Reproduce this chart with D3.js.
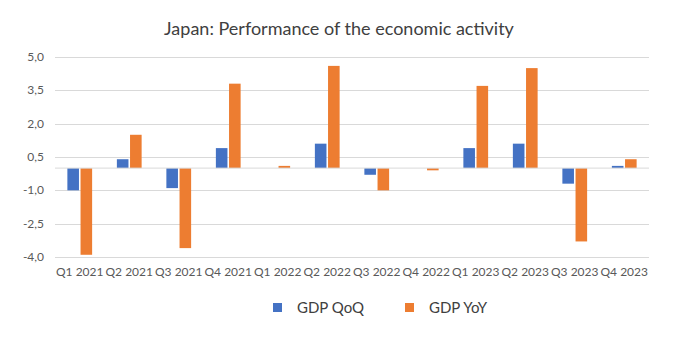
<!DOCTYPE html>
<html>
<head>
<meta charset="utf-8">
<script src="https://cdn.jsdelivr.net/npm/d3@7"></script>
<style>
  body { margin: 0; background: #fff; }
  svg { font-family: Lato, "Open Sans", sans-serif; }
</style>
</head>
<body>
<svg width="676" height="337"></svg>
<script>
const quarters = ['Q1 2021', 'Q2 2021', 'Q3 2021', 'Q4 2021', 'Q1 2022', 'Q2 2022',
  'Q3 2022', 'Q4 2022', 'Q1 2023', 'Q2 2023', 'Q3 2023', 'Q4 2023'];
const gdpQoQ = [-1.0, 0.4, -0.9, 0.9, 0.0, 1.1, -0.3, 0.0, 0.9, 1.1, -0.7, 0.1];
const gdpYoY = [-3.9, 1.5, -3.6, 3.8, 0.1, 4.6, -1.0, -0.1, 3.7, 4.5, -3.3, 0.4];
const seriesNames = ['GDP QoQ', 'GDP YoY'];
const yTicks = [-4.0, -2.5, -1.0, 0.5, 2.0, 3.5, 5.0];

const colors = ['#4472C4', '#ED7D31'];
const svg = d3.select('svg');
const margin = { left: 55, right: 27, top: 57, bottom: 80 };
const width = 676, height = 337;

const x = d3.scaleBand().domain(quarters)
  .range([margin.left, width - margin.right]).paddingInner(0.5).paddingOuter(0.25);
const x1 = d3.scaleBand().domain(seriesNames).range([0, x.bandwidth()]).paddingInner(0.12);
const y = d3.scaleLinear().domain([-4, 5]).range([height - margin.bottom, margin.top]);

const fmt = v => d3.format('.1f')(v).replace('.', ',').replace('−', '-');

// title
svg.append('text')
  .attr('x', 339).attr('y', 35)
  .attr('text-anchor', 'middle')
  .attr('font-size', 18).attr('fill', '#404040')
  .text('Japan: Performance of the economic activity');

// gridlines + y labels
const gy = svg.append('g');
gy.selectAll('line').data(yTicks).enter().append('line')
  .attr('x1', margin.left).attr('x2', width - margin.right)
  .attr('y1', d => Math.round(y(d)) + 0.5).attr('y2', d => Math.round(y(d)) + 0.5)
  .attr('stroke', '#d9d9d9');
gy.selectAll('text').data(yTicks).enter().append('text')
  .attr('x', 44).attr('y', d => y(d) + 4)
  .attr('text-anchor', 'end').attr('font-size', 12).attr('fill', '#595959')
  .text(fmt);

// bars
const rows = quarters.map((q, i) => ({ q, vals: [gdpQoQ[i], gdpYoY[i]] }));
const groups = svg.selectAll('g.q').data(rows).enter().append('g')
  .attr('class', 'q')
  .attr('transform', d => `translate(${x(d.q)},0)`);
groups.selectAll('rect').data(d => d.vals.map((v, j) => ({ v, s: seriesNames[j], j })))
  .enter().append('rect')
  .attr('x', d => x1(d.s))
  .attr('width', x1.bandwidth())
  .attr('y', d => y(Math.max(0, d.v)))
  .attr('height', d => Math.abs(y(d.v) - y(0)))
  .attr('fill', d => colors[d.j]);

// zero line
svg.append('line')
  .attr('x1', margin.left).attr('x2', width - margin.right)
  .attr('y1', y(0)).attr('y2', y(0))
  .attr('stroke', '#d9d9d9');

// x labels
svg.selectAll('text.xl').data(quarters).enter().append('text')
  .attr('class', 'xl')
  .attr('x', d => x(d) + x.bandwidth() / 2).attr('y', 276)
  .attr('text-anchor', 'middle').attr('font-size', 12).attr('fill', '#595959')
  .text(d => d);

// legend
const legendX = [273, 405];
const leg = svg.selectAll('g.leg').data(seriesNames).enter().append('g')
  .attr('class', 'leg')
  .attr('transform', (d, i) => `translate(${legendX[i]},303)`);
leg.append('rect').attr('width', 9).attr('height', 9)
  .attr('fill', (d, i) => colors[i]);
leg.append('text').attr('x', 24).attr('y', 10)
  .attr('font-size', 15).attr('fill', '#404040')
  .text(d => d);
</script>
</body>
</html>
